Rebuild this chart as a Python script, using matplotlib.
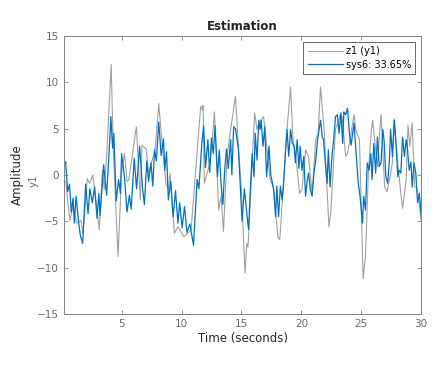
import numpy as np
import matplotlib
matplotlib.use("Agg")
from matplotlib import pyplot as plt

t_meas = [0.33, 0.68, 0.95, 1.25, 1.6, 1.78, 2.13, 2.33, 2.6, 3.14, 3.4, 3.55, 3.75,
          4.13, 4.3, 4.7, 5.0, 5.25, 5.45, 5.6, 6.23, 6.56, 6.7, 7.05, 7.25, 7.8,
          8.1, 8.33, 8.7, 8.9, 9.05, 9.4, 9.7, 10.2, 10.8, 11.6, 11.75, 11.8, 11.9,
          12.2, 12.4, 12.75, 13.1, 13.3, 13.5, 13.8, 14.1, 14.5, 14.8, 15.0, 15.3,
          15.45, 15.55, 16.1, 16.3, 16.45, 16.85, 17.4, 17.65, 18.05, 18.2, 18.8,
          19.1, 19.3, 19.6, 19.85, 20.05, 20.35, 20.6, 20.9, 21.2, 21.4, 21.6, 21.9,
          22.15, 22.3, 22.45, 22.85, 23.25, 23.4, 23.7, 23.85, 24.4, 24.55, 24.85,
          25.05, 25.15, 25.35, 25.6, 25.85, 25.95, 26.35, 26.55, 26.65, 26.95, 27.15,
          27.4, 27.6, 27.75, 28.05, 28.3, 28.45, 28.75, 28.9, 29.05, 29.25, 29.45,
          29.6, 29.75, 30.0]
y_meas = [-0.7, -4.9, -3.4, -5.2, -4.9, -6.3, -0.4, -0.9, 0.0, -5.9, 0.5, -1.6, 2.0,
          11.9, 3.0, -8.8, 0.2, 2.3, -0.7, -0.5, 5.2, -2.7, 3.2, 2.8, 0.2, 2.7,
          7.7, 4.1, -0.9, -1.6, 0.2, -6.3, -5.6, -6.7, -5.9, 7.4, 7.0, 7.5, -0.9,
          0.5, 1.3, 6.8, -3.8, -2.3, -6.1, 2.0, 4.9, 8.5, 2.0, -1.6, -10.6,
          -7.4, -7.8, 6.7, 4.9, 5.6, 6.3, -0.5, -1.3, -6.7, -7.0, 4.9,
          9.5, 3.8, 1.3, -2.0, -1.6, 2.7, 2.0, -2.0, 3.8, 4.5, 9.5, 4.9,
          -1.6, -5.6, -4.1, 4.9, 6.5, 6.3, 2.0, 2.3, 6.5, 4.9, 3.8,
          -5.9, -11.2, -8.8, 0.5, 4.9, 5.9, 0.9, 4.9, 6.5, -1.3, -1.8,
          -0.2, 1.3, 6.1, 1.3, -2.0, -3.6, -0.5, 5.4, 3.1, 5.6, -1.3,
          -1.3, -2.0, -5.0]

# simulated output sys6
t_sim = [0.33, 0.5, 0.65, 0.8, 0.95, 1.05, 1.2, 1.4, 1.55, 1.75, 2.0, 2.2, 2.35,
         2.55, 2.75, 2.95, 3.1, 3.2, 3.5, 3.75, 4.0, 4.1, 4.25, 4.35, 4.55, 4.75,
         4.9, 5.0, 5.25, 5.45, 5.65, 5.8, 6.05, 6.25, 6.5, 6.75, 6.9, 7.1, 7.25,
         7.45, 7.6, 7.75, 7.9, 8.1, 8.3, 8.5, 8.6, 8.75, 8.9, 9.1, 9.3, 9.5, 9.7,
         9.85, 10.05, 10.25, 10.45, 10.7, 11.0, 11.3, 11.45, 11.7, 11.85, 12.0,
         12.2, 12.35, 12.5, 12.65, 12.8, 13.0, 13.15, 13.3, 13.45, 13.6, 13.75,
         13.9, 14.1, 14.2, 14.35, 14.5, 14.75, 15.05, 15.25, 15.45, 15.6, 15.75,
         15.9, 16.05, 16.15, 16.3, 16.45, 16.55, 16.65, 16.8, 16.95, 17.1, 17.3,
         17.45, 17.7, 17.85, 17.95, 18.1, 18.25, 18.4, 18.5, 18.65, 18.8, 18.95,
         19.1, 19.25, 19.4, 19.5, 19.65, 19.8, 19.9, 20.05, 20.2, 20.35, 20.5,
         20.6, 20.75, 20.9, 21.05, 21.2, 21.35, 21.6, 21.75, 21.85, 22.0, 22.15,
         22.25, 22.4, 22.55, 22.7, 22.85, 23.0, 23.15, 23.3, 23.45, 23.55, 23.7,
         23.85, 24.0, 24.15, 24.4, 24.55, 24.75, 24.9, 25.1, 25.2, 25.35, 25.5,
         25.65, 25.8, 25.9, 26.05, 26.2, 26.35, 26.5, 26.65, 26.8, 26.9, 27.05,
         27.2, 27.35, 27.45, 27.6, 27.75, 27.9, 28.05, 28.15, 28.3, 28.45, 28.6,
         28.75, 28.85, 29.0, 29.15, 29.25, 29.4, 29.55, 29.7, 29.85, 30.0]
y_sim = [1.4, -1.8, -1.0, -4.0, -2.5, -5.2, -2.3, -5.0, -6.5, -7.4, -1.0, -4.2, -1.5,
         -3.0, -1.3, -4.7, -2.0, -4.4, 1.1, -2.2, 3.5, 6.3, 2.9, 4.5, -2.8, -0.5,
         -2.0, 2.3, -0.4, -4.0, -2.2, -3.7, 1.8, -1.5, 3.1, -1.5, -3.2, 1.5, -0.7,
         1.3, -1.2, 2.7, 1.5, 5.7, 2.1, 3.9, 0.5, 2.5, -2.7, -0.7, -4.5, -1.7, -5.2,
         -3.0, -5.7, -3.4, -6.2, -5.3, -7.6, -0.5, -1.5, 3.5, 5.3, 0.8,
         3.8, 0.3, 4.0, 2.3, 5.3, -0.2, 2.7, -1.0, -3.2, 0.5, 2.8,
         0.7, 3.8, 0.0, 5.2, 5.0, 2.8, -5.0, -1.5, -4.2, -5.9, -1.3,
         2.3, -0.2, 4.5, 1.6, 5.9, 4.9, 5.9, 3.1, 5.2, -0.2, 3.1,
         0.0, -1.6, -4.5, -1.2, -4.5, -1.2, -2.7, -1.3, 2.0, 4.9, 2.0,
         4.9, 3.4, 3.1, 1.3, 3.8, 0.7, 3.1, 0.5, 2.0, -2.3, -0.5,
         0.2, -1.6, -2.3, 0.2, 1.6, 3.8, 5.9, 4.1, 3.8, 1.3, -0.9,
         2.7, -1.3, 2.0, 3.8, 6.3, 6.5, 4.5, 6.7, 3.4, 6.8, 6.5,
         7.2, 4.7, 3.2, 5.6, 2.7, -0.9, -2.3, -5.2, -2.3, -3.8, 1.3,
         0.5, 2.3, -0.5, 3.4, 0.2, 4.1, 0.9, 1.3, 4.9, 3.8, -0.2,
         -0.9, 1.6, 4.9, 2.0, 5.9, 3.4, -0.2, 0.5, 0.2, 4.1, 2.0,
         3.8, 2.9, 0.5, 1.4, -1.3, 1.3, 0.2, -3.0, -2.0, -4.3]

gray = '#a0a0a0'
blue = '#0072bd'
axc = '#808080'

fig = plt.figure(figsize=(4.36, 3.71), dpi=100)
ax = fig.add_axes([0.147, 0.154, 0.819, 0.749])

ax.plot(t_meas, y_meas, color=gray, lw=0.8, label='z1 (y1)')
ax.plot(t_sim, y_sim, color=blue, lw=0.9, label='sys6: 33.65%')

ax.set_xlim(0.2, 30)
ax.set_ylim(-15, 15)
ax.set_xticks([5, 10, 15, 20, 25, 30])
ax.set_yticks([-15, -10, -5, 0, 5, 10, 15])
ax.tick_params(direction='in', length=3, width=0.6, colors=axc, labelsize=7.5,
               top=True, right=True, labelcolor='#6a6a6a')
for s in ax.spines.values():
    s.set_color(axc)
    s.set_linewidth(0.7)

ax.set_title('Estimation', fontsize=8.5, fontweight='bold', color='#222222', pad=4)
ax.set_xlabel('Time (seconds)', fontsize=8.5, color='#262626', labelpad=2)
ax.set_ylabel('y1', fontsize=7.5, color='#6a6a6a')
ax.yaxis.set_label_coords(-0.072, 0.48)
fig.text(0.041, 0.53, 'Amplitude', rotation=90, fontsize=8.5, color='#262626',
         ha='center', va='center')

leg = ax.legend(loc='upper right', fontsize=7, frameon=True, fancybox=False,
                handlelength=3.6, borderaxespad=0.6, borderpad=0.45,
                labelspacing=0.35, handletextpad=0.3)
leg.get_frame().set_edgecolor('#404040')
leg.get_frame().set_linewidth(0.7)

plt.savefig('out.png', dpi=100)
